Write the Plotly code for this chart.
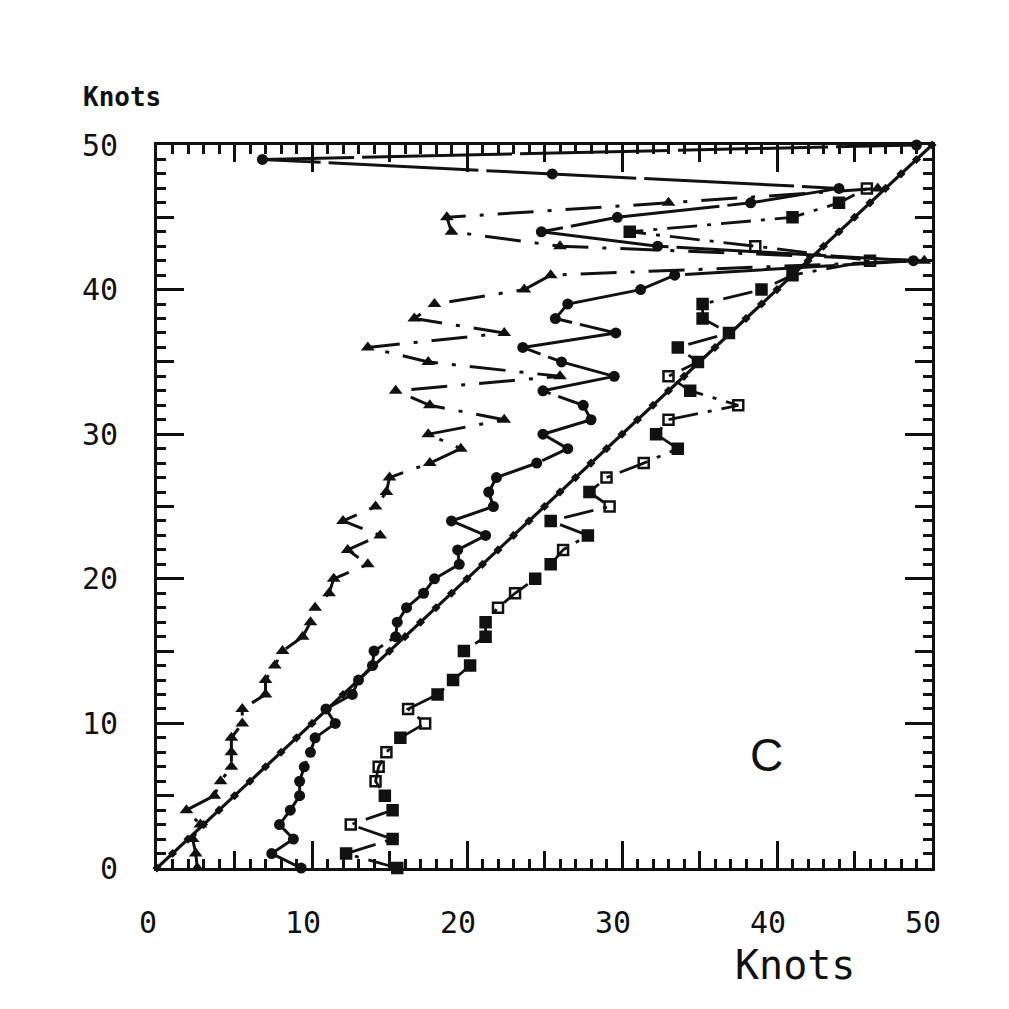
import plotly.graph_objects as go

# ---------------- data ----------------
diag_vals = list(range(0, 51))

tri_y = list(range(0, 48))
tri_x = [2.6, 2.5, 2.3, 2.8, 1.9, 3.7, 4.1, 4.8, 4.8, 4.8,
         5.5, 5.5, 7.0, 7.0, 7.6, 8.1, 9.4, 9.9, 10.2, 11.1,
         11.4, 13.6, 12.3, 14.4, 12.0, 14.1, 14.8, 15.0, 17.6, 19.6,
         17.5, 22.4, 17.6, 15.4, 26.0, 17.5, 13.6, 22.4, 16.6, 17.9,
         23.7, 25.4, 49.5, 26.0, 19.0, 18.7, 33.0, 46.5]

circ_y = list(range(0, 51))
circ_x = [9.3, 7.4, 8.8, 7.9, 8.6, 9.2, 9.2, 9.5, 9.9, 10.2,
          11.5, 10.9, 12.6, 13.0, 13.9, 14.0, 15.4, 15.5, 16.1, 17.2,
          17.9, 19.5, 19.4, 21.2, 19.0, 21.7, 21.4, 21.9, 24.5, 26.5,
          24.9, 28.0, 27.5, 24.9, 29.5, 26.1, 23.6, 29.6, 25.7, 26.5,
          31.2, 33.4, 48.8, 32.3, 24.8, 29.7, 38.3, 44.0, 25.5, 6.8,
          49.0]

sq_y = list(range(0, 48))
sq_x = [15.5, 12.2, 15.2, 12.5, 15.2, 14.7, 14.1, 14.3, 14.8, 15.7,
        17.3, 16.2, 18.1, 19.1, 20.2, 19.8, 21.2, 21.2, 22.0, 23.1,
        24.4, 25.4, 26.2, 27.8, 25.4, 29.2, 27.9, 29.0, 31.4, 33.6,
        32.2, 33.0, 37.5, 34.4, 33.0, 34.9, 33.6, 36.9, 35.2, 35.2,
        39.0, 41.0, 46.0, 38.6, 30.5, 41.0, 44.0, 45.8]
sq_open = [0, 0, 0, 1, 0, 0, 1, 1, 1, 0,
           1, 1, 0, 0, 0, 0, 0, 0, 1, 1,
           0, 0, 1, 0, 0, 1, 0, 1, 1, 0,
           0, 1, 1, 0, 1, 0, 0, 0, 0, 0,
           0, 0, 1, 1, 0, 0, 0, 1]

x_ticks = [0, 10, 20, 30, 40, 50]
y_ticks = [0, 10, 20, 30, 40, 50]

# ---------------- figure ----------------
INK = "#111111"
MONO = "DejaVu Sans Mono"

fig = go.Figure()

fig.add_trace(go.Scatter(
    x=diag_vals, y=diag_vals, mode="lines+markers", cliponaxis=False,
    line=dict(color=INK, width=3.2),
    marker=dict(symbol="diamond", size=7, color=INK),
    showlegend=False))

fig.add_trace(go.Scatter(
    x=tri_x, y=tri_y, mode="lines+markers", cliponaxis=False,
    line=dict(color=INK, width=3, dash="36px,14px,4px,14px"),
    marker=dict(symbol="triangle-up", size=12, color=INK),
    showlegend=False))

fig.add_trace(go.Scatter(
    x=circ_x, y=circ_y, mode="lines+markers", cliponaxis=False,
    line=dict(color=INK, width=3, dash="150px,8px"),
    marker=dict(symbol="circle", size=11, color=INK),
    showlegend=False))

fig.add_trace(go.Scatter(
    x=sq_x, y=sq_y, mode="lines+markers", cliponaxis=False,
    line=dict(color=INK, width=2.8, dash="30px,10px,4px,10px"),
    marker=dict(symbol=["square-open" if o else "square" for o in sq_open],
                size=10, color=INK, line=dict(color=INK, width=2.5)),
    showlegend=False))

# invisible trace to activate the medium-tick overlay axes
fig.add_trace(go.Scatter(x=[None], y=[None], xaxis="x2", yaxis="y2",
                         showlegend=False, hoverinfo="skip"))

axis_common = dict(range=[0, 50], showgrid=False, zeroline=False,
                   showline=True, linecolor=INK, linewidth=3,
                   ticks="inside", tickcolor=INK, tickwidth=2.5,
                   mirror="allticks")

fig.update_layout(
    width=1009, height=1009,
    margin=dict(l=149, r=85, t=137, b=149, autoexpand=False),
    paper_bgcolor="white", plot_bgcolor="white",
    xaxis=dict(**axis_common, tickvals=x_ticks, ticktext=[str(v) for v in x_ticks],
               ticklen=27, ticklabelstandoff=26, ticklabelshift=-9,
               tickfont=dict(family=MONO, size=30, color=INK),
               minor=dict(dtick=1, ticks="inside", ticklen=9, tickwidth=2.5,
                          tickcolor=INK, showgrid=False)),
    yaxis=dict(**axis_common, tickvals=y_ticks, ticktext=[str(v) for v in y_ticks],
               ticklen=27, ticklabelstandoff=30,
               tickfont=dict(family=MONO, size=30, color=INK),
               minor=dict(dtick=1, ticks="inside", ticklen=9, tickwidth=2.5,
                          tickcolor=INK, showgrid=False)),
    xaxis2=dict(range=[0, 50], overlaying="x", anchor="y2", side="bottom",
                showgrid=False, zeroline=False, showline=False,
                ticks="inside", dtick=5, tick0=0, ticklen=17, tickwidth=2.5,
                tickcolor=INK, showticklabels=False, mirror="allticks"),
    yaxis2=dict(range=[0, 50], overlaying="y", anchor="x2", side="left",
                showgrid=False, zeroline=False, showline=False,
                ticks="inside", dtick=5, tick0=0, ticklen=17, tickwidth=2.5,
                tickcolor=INK, showticklabels=False, mirror="allticks"),
    annotations=[
        dict(text="<b>Knots</b>", xref="paper", yref="paper", x=-0.045, y=1.066,
             showarrow=False, xanchor="center", yanchor="middle",
             font=dict(family=MONO, size=26, color=INK)),
        dict(text="Knots", xref="paper", yref="paper", x=0.823, y=-0.134,
             showarrow=False, xanchor="center", yanchor="middle",
             font=dict(family=MONO, size=40, color=INK)),
        dict(text="C", xref="x", yref="y", x=39.3, y=7.8,
             showarrow=False, xanchor="center", yanchor="middle",
             font=dict(family="Liberation Sans", size=46, color=INK)),
    ],
)

fig.write_html("out.html")
